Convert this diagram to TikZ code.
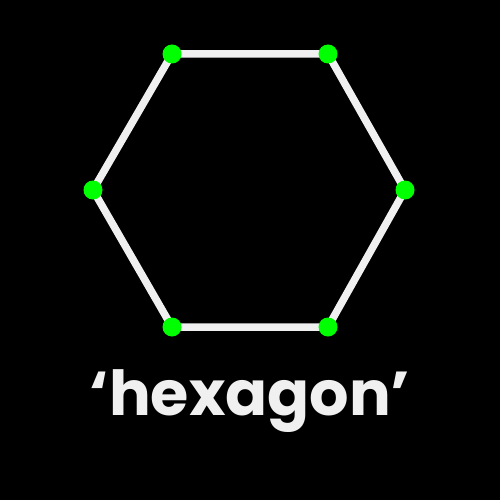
\documentclass[tikz,border=0pt]{standalone}
\usepackage{fontspec}
\newfontfamily\pop{Poppins}
\begin{document}
\begin{tikzpicture}[x=1pt,y=-1pt,
  edge/.style={draw=white!94!black,line width=7.5pt,line join=miter},
  vert/.style={circle,fill=green,inner sep=0pt,minimum size=19pt}]
\fill[black] (0,0) rectangle (500,500);
\useasboundingbox (0,0) rectangle (500,500);
\coordinate (p1) at (172,54);
\coordinate (p2) at (328,54);
\coordinate (p3) at (405,190);
\coordinate (p4) at (328,327);
\coordinate (p5) at (172,327);
\coordinate (p6) at (93,190);
\draw[edge] (p1) -- (p2) -- (p3) -- (p4) -- (p5) -- (p6) -- cycle;
\foreach \i in {1,...,6} \node[vert] (v\i) at (p\i) {};
\node[text=white!94!black,font=\pop\bfseries\fontsize{62}{68}\selectfont,anchor=base,inner sep=0pt] (t) at (250,415) {‘hexagon’};
\end{tikzpicture}
\end{document}
